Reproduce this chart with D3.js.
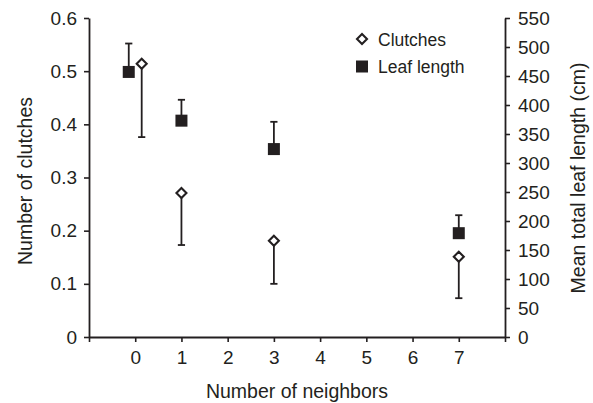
<!DOCTYPE html>
<html>
<head>
<meta charset="utf-8">
<script src="https://cdn.jsdelivr.net/npm/d3@7"></script>
<style>
  html, body { margin: 0; padding: 0; background: #fff; }
  svg { display: block; font-family: "Liberation Sans", Arial, Helvetica, sans-serif; }
</style>
</head>
<body>
<svg id="chart"></svg>
<script>
// Clutches (left axis, open diamonds) and leaf length (right axis, filled squares) by number of neighbors
const neighbors = [0, 1, 3, 7];
const clutches = [0.514, 0.271, 0.181, 0.151];
const clutchesErr = [0.138, 0.098, 0.081, 0.078];   // drawn downward
const leafLength = [457, 373, 324, 179];
const leafErr = [49, 36, 47, 31];                   // drawn upward

const xTicks = [-1, 0, 1, 2, 3, 4, 5, 6, 7, 8];
const xLabels = ["", "0", "1", "2", "3", "4", "5", "6", "7", ""];
const leftTicks = [0, 0.1, 0.2, 0.3, 0.4, 0.5, 0.6];
const rightTicks = [0, 50, 100, 150, 200, 250, 300, 350, 400, 450, 500, 550];

const W = 593, H = 403;
const PLOT = { left: 89, right: 505, top: 18, bottom: 337 };
const INK = "#231f20";
const DODGE = 0.14; // the two series sit side by side only where they collide (0 neighbors)

const svg = d3.select("#chart").attr("width", W).attr("height", H);

const x = d3.scaleLinear().domain([-1, 8]).range([PLOT.left, PLOT.right]);
const yL = d3.scaleLinear().domain([0, 0.6]).range([PLOT.bottom, PLOT.top]);
const yR = d3.scaleLinear().domain([0, 550]).range([PLOT.bottom, PLOT.top]);

const styleAxis = (ax, size) => {
  ax.select(".domain").attr("stroke", INK).attr("stroke-width", 1.8);
  ax.selectAll(".tick line").attr("stroke", INK).attr("stroke-width", 1.6);
  ax.selectAll(".tick text").attr("fill", INK).attr("font-size", size)
    .attr("font-family", "Liberation Sans, Arial, sans-serif");
};

// axes
svg.append("g").attr("transform", `translate(0,${PLOT.bottom})`)
  .call(d3.axisBottom(x).tickValues(xTicks).tickSize(5).tickSizeOuter(0).tickPadding(9)
    .tickFormat((d, i) => xLabels[i]))
  .call(ax => styleAxis(ax, "19px"));

svg.append("g").attr("transform", `translate(${PLOT.left},0)`)
  .call(d3.axisLeft(yL).tickValues(leftTicks).tickSize(5).tickSizeOuter(0).tickPadding(7)
    .tickFormat(d => d === 0 ? "0" : d3.format(".1f")(d)))
  .call(ax => styleAxis(ax, "19px"));

svg.append("g").attr("transform", `translate(${PLOT.right},0)`)
  .call(d3.axisRight(yR).tickValues(rightTicks).tickSize(5).tickSizeOuter(0).tickPadding(8))
  .call(ax => styleAxis(ax, "19px"));

// axis titles
svg.append("text").attr("x", (PLOT.left + PLOT.right) / 2).attr("y", 398)
  .attr("text-anchor", "middle").attr("font-size", "19.5px").attr("fill", INK)
  .text("Number of neighbors");
svg.append("text").attr("transform", "translate(32,181) rotate(-90)")
  .attr("text-anchor", "middle").attr("font-size", "19.5px").attr("fill", INK)
  .text("Number of clutches");
svg.append("text").attr("transform", "translate(585,178) rotate(-90)")
  .attr("text-anchor", "middle").attr("font-size", "19.5px").attr("fill", INK)
  .text("Mean total leaf length (cm)");

const CAP = 3.6;
const errBar = (cx, y0, y1) => {
  svg.append("line").attr("x1", cx).attr("x2", cx).attr("y1", y0).attr("y2", y1)
    .attr("stroke", INK).attr("stroke-width", 1.8);
  svg.append("line").attr("x1", cx - CAP).attr("x2", cx + CAP).attr("y1", y1).attr("y2", y1)
    .attr("stroke", INK).attr("stroke-width", 1.8);
};
const diamond = (g, cx, cy) => g.append("path")
  .attr("d", `M${cx},${cy - 5}L${cx + 5},${cy}L${cx},${cy + 5}L${cx - 5},${cy}Z`)
  .attr("fill", "#fff").attr("stroke", INK).attr("stroke-width", 2.1);
const square = (g, cx, cy) => g.append("rect")
  .attr("x", cx - 6).attr("y", cy - 6).attr("width", 12).attr("height", 12)
  .attr("fill", INK);

// leaf length: squares with upper error bars
neighbors.forEach((n, i) => {
  const cx = x(n - (n === 0 ? DODGE : 0));
  errBar(cx, yR(leafLength[i]), yR(leafLength[i] + leafErr[i]));
  square(svg, cx, yR(leafLength[i]));
});

// clutches: diamonds with lower error bars
neighbors.forEach((n, i) => {
  const cx = x(n + (n === 0 ? DODGE : 0));
  errBar(cx, yL(clutches[i]), yL(clutches[i] - clutchesErr[i]));
  diamond(svg, cx, yL(clutches[i]));
});

// legend
const leg = svg.append("g").attr("transform", "translate(362,39)");
diamond(leg, 0, 0);
leg.append("text").attr("x", 16).attr("y", 6.5).attr("font-size", "17.5px").attr("fill", INK).text("Clutches");
square(leg, 0, 27.5);
leg.append("text").attr("x", 16).attr("y", 33.5).attr("font-size", "17.5px").attr("fill", INK).text("Leaf length");
</script>
</body>
</html>
